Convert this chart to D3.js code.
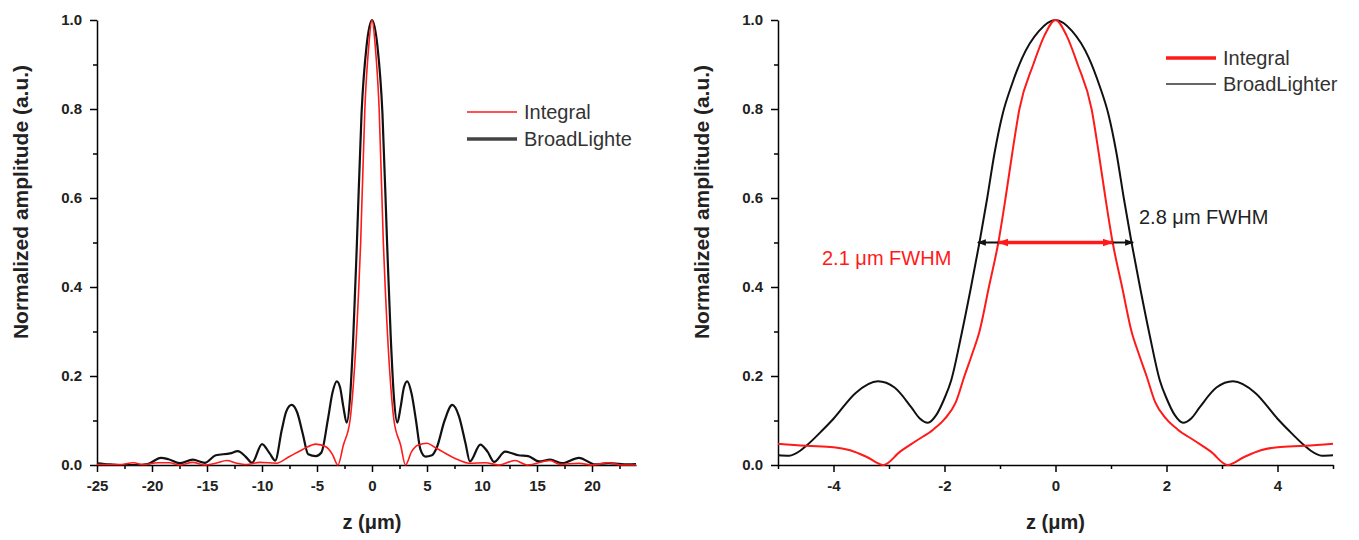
<!DOCTYPE html>
<html>
<head>
<meta charset="utf-8">
<script src="https://cdn.jsdelivr.net/npm/d3@7"></script>
<style>
  body { margin: 0; background: #fff; }
  svg { display: block; font-family: Arial, "Liberation Sans", sans-serif; }
  .axis path, .axis line { stroke: #000; stroke-width: 1.5; }
  .axis text { font-size: 15px; font-weight: bold; fill: #222; }
</style>
</head>
<body>
<div id="chart"></div>
<script>
// Left panel: wide z range
var leftBroad = [
	[-25, 0.004], [-23.8, 0.0015], [-22.6, 0.0], [-21.4, 0.0], [-20.4, 0.002],
	[-19.2, 0.016], [-18.5, 0.013], [-17.5, 0.004], [-16.3, 0.012], [-15.2, 0.005],
	[-14.2, 0.022], [-12.9, 0.026], [-12.2, 0.031], [-11.5, 0.019], [-10.9, 0.005],
	[-10.0, 0.047], [-9.3, 0.026], [-8.8, 0.01], [-8.2, 0.079], [-7.8, 0.12],
	[-7.3, 0.135], [-6.8, 0.118], [-6.3, 0.071], [-5.8, 0.024], [-5.1, 0.02],
	[-4.6, 0.028], [-4.0, 0.104], [-3.6, 0.162], [-3.2, 0.188], [-2.9, 0.174],
	[-2.6, 0.13], [-2.3, 0.095], [-2.0, 0.15], [-1.7, 0.29], [-1.37, 0.5],
	[-0.95, 0.79], [-0.5, 0.94], [0, 1.0], [0.5, 0.94], [0.95, 0.79],
	[1.37, 0.5], [1.7, 0.29], [2.0, 0.15], [2.3, 0.095], [2.6, 0.13],
	[2.9, 0.174], [3.2, 0.188], [3.6, 0.16], [4.0, 0.1], [4.4, 0.035],
	[4.85, 0.019], [5.45, 0.022], [5.9, 0.04], [6.6, 0.1], [7.3, 0.135],
	[7.9, 0.11], [8.5, 0.049], [8.9, 0.008], [9.85, 0.046], [10.5, 0.03],
	[11.1, 0.007], [12.1, 0.03], [13.3, 0.022], [14.2, 0.02], [15.2, 0.008],
	[16.2, 0.012], [17.3, 0.004], [18.8, 0.016], [20.3, 0.0015], [21.5, 0.004],
	[23.3, 0.0015], [24, 0.002]
];

var leftIntegral = [
	[-25, 0.001], [-23, 0.001], [-21.7, 0.005], [-20.8, 0.001], [-19.5, 0.005],
	[-18.4, 0.005], [-17.5, 0.0], [-16.3, 0.006], [-15.2, 0.0], [-14.2, 0.004],
	[-13.2, 0.01], [-12.3, 0.004], [-11.4, 0.001], [-10.2, 0.006], [-8.7, 0.004],
	[-7.5, 0.019], [-6.3, 0.035], [-5.1, 0.047], [-4.2, 0.041], [-3.6, 0.024],
	[-3.1, 0.0], [-2.6, 0.045], [-2.0, 0.1], [-1.64, 0.2], [-1.2, 0.4],
	[-1.03, 0.5], [-0.65, 0.8], [-0.3, 0.94], [0, 1.0], [0.3, 0.94],
	[0.65, 0.8], [1.03, 0.5], [1.2, 0.4], [1.64, 0.2], [2.0, 0.1],
	[2.6, 0.045], [3.05, 0.0], [3.6, 0.03], [4.2, 0.045], [5.0, 0.049],
	[5.7, 0.04], [6.4, 0.03], [7.9, 0.011], [8.8, 0.004], [10.3, 0.005],
	[11.5, 0.0], [13.0, 0.01], [14.1, 0.0], [16.2, 0.01], [17.1, 0.0015],
	[18.8, 0.004], [20.0, 0.0], [21.5, 0.005], [22.6, 0.0], [24, 0.0]
];

// Right panel: zoom on the central peak
var rightBroad = [
	[-5, 0.022], [-4.8, 0.021], [-4.6, 0.032], [-4.5, 0.042], [-4.2, 0.078],
	[-4.0, 0.104], [-3.6, 0.162], [-3.2, 0.188], [-2.9, 0.174], [-2.6, 0.13],
	[-2.45, 0.105], [-2.3, 0.095], [-2.15, 0.112], [-2.0, 0.15], [-1.88, 0.19],
	[-1.7, 0.29], [-1.53, 0.395], [-1.37, 0.5], [-1.23, 0.6], [-1.1, 0.7],
	[-0.95, 0.79], [-0.8, 0.85], [-0.6, 0.915], [-0.3, 0.975], [0, 1.0],
	[0.3, 0.975], [0.6, 0.915], [0.8, 0.85], [0.95, 0.79], [1.1, 0.7],
	[1.23, 0.6], [1.37, 0.5], [1.53, 0.395], [1.7, 0.29], [1.88, 0.19],
	[2.0, 0.15], [2.15, 0.112], [2.3, 0.095], [2.45, 0.105], [2.6, 0.13],
	[2.9, 0.174], [3.2, 0.188], [3.6, 0.162], [4.0, 0.104], [4.2, 0.078],
	[4.5, 0.042], [4.6, 0.032], [4.8, 0.021], [5, 0.022]
];

var rightIntegral = [
	[-5, 0.048], [-4.5, 0.043], [-4.0, 0.04], [-3.7, 0.033], [-3.4, 0.018],
	[-3.1, 0.0], [-2.8, 0.03], [-2.5, 0.055], [-2.2, 0.08], [-2.0, 0.103],
	[-1.8, 0.14], [-1.64, 0.2], [-1.5, 0.25], [-1.37, 0.3], [-1.2, 0.4],
	[-1.03, 0.5], [-0.9, 0.6], [-0.78, 0.7], [-0.65, 0.8], [-0.4, 0.9],
	[-0.2, 0.965], [0, 1.0], [0.2, 0.965], [0.4, 0.9], [0.65, 0.8],
	[0.78, 0.7], [0.9, 0.6], [1.03, 0.5], [1.2, 0.4], [1.37, 0.3],
	[1.5, 0.25], [1.64, 0.2], [1.8, 0.14], [2.0, 0.103], [2.2, 0.08],
	[2.5, 0.055], [2.8, 0.03], [3.1, 0.0], [3.4, 0.018], [3.7, 0.033],
	[4.0, 0.04], [4.5, 0.043], [5, 0.048]
];

// FWHM markers (z limits at half maximum)
var fwhmBroad = [-1.4, 1.4];
var fwhmIntegral = [-1.03, 1.03];

var yMajor = [0, 0.2, 0.4, 0.6, 0.8, 1.0];
var yMinor = [0.1, 0.3, 0.5, 0.7, 0.9];
var leftMajor = [-25, -20, -15, -10, -5, 0, 5, 10, 15, 20];
var leftMinor = [-22.5, -17.5, -12.5, -7.5, -2.5, 2.5, 7.5, 12.5, 17.5, 22.5];
var rightMajor = [-4, -2, 0, 2, 4];
var rightMinor = [-5, -3, -1, 1, 3, 5];

var W = 1359, H = 540;
var plotTop = 20, plotBottom = 465;

var svg = d3.select("#chart").append("svg")
	.attr("width", W)
	.attr("height", H);

var defs = svg.append("defs");
function addArrow(id, color, size) {
	defs.append("marker")
		.attr("id", id)
		.attr("viewBox", "0 0 10 10")
		.attr("refX", 9).attr("refY", 5)
		.attr("markerUnits", "userSpaceOnUse")
		.attr("markerWidth", size).attr("markerHeight", size)
		.attr("orient", "auto-start-reverse")
		.append("path")
		.attr("d", "M0,1.5 L10,5 L0,8.5 Z")
		.attr("fill", color);
}
addArrow("arrBlack", "#111", 9);
addArrow("arrRed", "#ff1a1a", 11);

var y = d3.scaleLinear().domain([0, 1]).range([plotBottom, plotTop]);

function panel(opts) {
	var x = d3.scaleLinear().domain(opts.domain).range(opts.range);
	var g = svg.append("g");

	// minor ticks
	g.append("g").attr("class", "axis")
		.attr("transform", "translate(0," + plotBottom + ")")
		.call(d3.axisBottom(x).tickValues(opts.minor).tickSize(4).tickSizeOuter(0).tickFormat(""))
		.select(".domain").remove();
	g.append("g").attr("class", "axis")
		.attr("transform", "translate(" + opts.range[0] + ",0)")
		.call(d3.axisLeft(y).tickValues(yMinor).tickSize(4).tickSizeOuter(0).tickFormat(""))
		.select(".domain").remove();

	// major ticks with labels
	g.append("g").attr("class", "axis")
		.attr("transform", "translate(0," + plotBottom + ")")
		.call(d3.axisBottom(x).tickValues(opts.major).tickSize(7).tickSizeOuter(0).tickPadding(8)
			.tickFormat(function(d) { return d < 0 ? "-" + Math.abs(d) : String(d); }));
	g.append("g").attr("class", "axis")
		.attr("transform", "translate(" + opts.range[0] + ",0)")
		.call(d3.axisLeft(y).tickValues(yMajor).tickSize(7).tickSizeOuter(0).tickPadding(8)
			.tickFormat(d3.format(".1f")));

	var line = d3.line()
		.x(function(d) { return x(d[0]); })
		.y(function(d) { return y(d[1]); })
		.curve(d3.curveMonotoneX);

	opts.series.forEach(function(s) {
		g.append("path")
			.datum(s.data)
			.attr("fill", "none")
			.attr("stroke", s.color)
			.attr("stroke-width", s.width)
			.attr("stroke-linejoin", "round")
			.attr("d", line);
	});

	// axis titles
	g.append("text")
		.attr("transform", "translate(" + (opts.range[0] - 69) + ",202) rotate(-90)")
		.attr("text-anchor", "middle")
		.style("font-size", "21px")
		.style("font-weight", "bold")
		.attr("fill", "#222")
		.text("Normalized amplitude (a.u.)");

	g.append("text")
		.attr("x", x(0))
		.attr("y", 529)
		.attr("text-anchor", "middle")
		.style("font-size", "20px")
		.style("font-weight", "bold")
		.attr("fill", "#222")
		.text("z (\u03bcm)");

	// legend
	opts.legend.forEach(function(l, i) {
		var ly = opts.legendY + i * opts.legendGap;
		g.append("line")
			.attr("x1", opts.legendX).attr("x2", opts.legendX + 50)
			.attr("y1", ly).attr("y2", ly)
			.attr("stroke", l.color)
			.attr("stroke-width", l.width);
		g.append("text")
			.attr("x", opts.legendX + 57)
			.attr("y", ly + 7)
			.style("font-size", "20px")
			.attr("fill", "#333")
			.text(l.label);
	});

	return x;
}

panel({
	domain: [-25, 24], range: [97, 636],
	major: leftMajor, minor: leftMinor,
	series: [
		{data: leftBroad, color: "#111", width: 2.2},
		{data: leftIntegral, color: "#ff1a1a", width: 1.6}
	],
	legendX: 467, legendY: 112, legendGap: 27,
	legend: [
		{label: "Integral", color: "#ff1a1a", width: 1.6},
		{label: "BroadLighte", color: "#444", width: 3.5}
	]
});

var xr = panel({
	domain: [-5, 5], range: [778, 1333],
	major: rightMajor, minor: rightMinor,
	series: [
		{data: rightBroad, color: "#111", width: 2},
		{data: rightIntegral, color: "#ff1a1a", width: 2}
	],
	legendX: 1166, legendY: 58, legendGap: 26,
	legend: [
		{label: "Integral", color: "#ff1a1a", width: 3.5},
		{label: "BroadLighter", color: "#333", width: 1.6}
	]
});

// FWHM arrows
svg.append("line")
	.attr("x1", xr(fwhmBroad[0])).attr("x2", xr(fwhmBroad[1]))
	.attr("y1", y(0.5)).attr("y2", y(0.5))
	.attr("stroke", "#111").attr("stroke-width", 2)
	.attr("marker-start", "url(#arrBlack)")
	.attr("marker-end", "url(#arrBlack)");

svg.append("line")
	.attr("x1", xr(fwhmIntegral[0])).attr("x2", xr(fwhmIntegral[1]))
	.attr("y1", y(0.5)).attr("y2", y(0.5))
	.attr("stroke", "#ff1a1a").attr("stroke-width", 3.5)
	.attr("marker-start", "url(#arrRed)")
	.attr("marker-end", "url(#arrRed)");

svg.append("text")
	.attr("x", 1139).attr("y", 224)
	.style("font-size", "20px")
	.attr("fill", "#222")
	.text("2.8 \u03bcm FWHM");

svg.append("text")
	.attr("x", 822).attr("y", 265)
	.style("font-size", "20px")
	.attr("fill", "#ff1a1a")
	.text("2.1 \u03bcm FWHM");
</script>
</body>
</html>
